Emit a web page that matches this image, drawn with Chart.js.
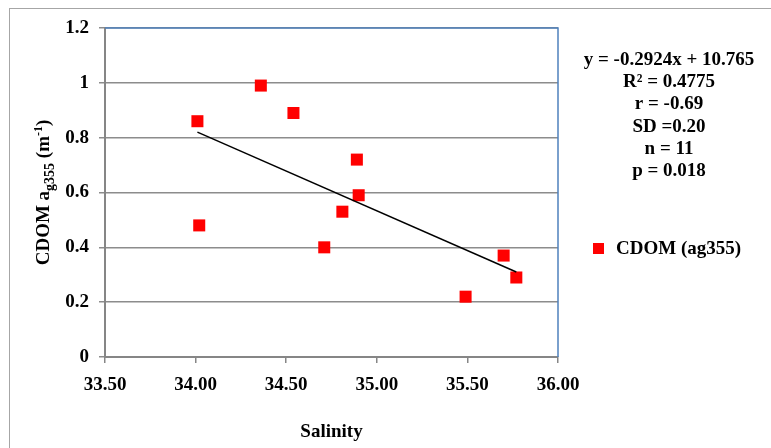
<!DOCTYPE html>
<html>
<head>
<meta charset="utf-8">
<script src="https://cdn.jsdelivr.net/npm/chart.js@4.4.0/dist/chart.umd.min.js"></script>
<style>
html, body { margin: 0; padding: 0; background: #fff; }
</style>
</head>
<body>
<canvas id="myChart" width="771" height="448"></canvas>
<script>
// data
const salinity = [34.01, 34.02, 34.36, 34.54, 34.71, 34.81, 34.89, 34.90, 35.49, 35.70, 35.77];
const cdom = [0.86, 0.48, 0.99, 0.89, 0.40, 0.53, 0.72, 0.59, 0.22, 0.37, 0.29];
const trendX = [34.01, 35.77];
const trendY = [0.82, 0.31];
const xTicks = [33.5, 34.0, 34.5, 35.0, 35.5, 36.0];
const yTicks = [0, 0.2, 0.4, 0.6, 0.8, 1.0, 1.2];
const statsLines = ['y = -0.2924x + 10.765', 'R\u00B2 = 0.4775', 'r = -0.69', 'SD =0.20', 'n = 11', 'p = 0.018'];
const seriesName = 'CDOM (ag355)';
const xTitle = 'Salinity';

const serif = "'Liberation Serif', 'Times New Roman', serif";

// titres, légende et cadre dessinés à la main
const decorPlugin = {
    id: 'decor',
    beforeDraw(chart) {
        const c = chart.ctx;
        c.save();
        c.fillStyle = '#fff';
        c.fillRect(0, 0, chart.width, chart.height);
        c.strokeStyle = '#a6a6a6';
        c.lineWidth = 1;
        c.strokeRect(9.5, 8.5, 800, 500);
        c.restore();
    },
    afterDraw(chart) {
        const c = chart.ctx;
        const a = chart.chartArea;
        c.save();
        // bord bleu haut / droite
        c.strokeStyle = '#4f81bd';
        c.lineWidth = 1.5;
        c.beginPath();
        c.moveTo(a.left, a.top);
        c.lineTo(a.right, a.top);
        c.lineTo(a.right, a.bottom);
        c.stroke();

        c.fillStyle = '#000';
        c.textAlign = 'center';
        c.textBaseline = 'middle';
        c.font = 'bold 19px ' + serif;
        statsLines.forEach((t, i) => c.fillText(t, 669, 60 + i * 22.2));

        // légende
        c.fillStyle = '#ff0000';
        c.fillRect(593, 243, 11, 11);
        c.fillStyle = '#000';
        c.textAlign = 'left';
        c.fillText(seriesName, 616, 249);

        // titre x
        c.textAlign = 'center';
        c.fillText(xTitle, (a.left + a.right) / 2, 432);

        // titre y avec indice / exposant
        const parts = [
            { t: 'CDOM a', s: 19, dy: 0 },
            { t: 'g355', s: 14, dy: 5 },
            { t: ' (m', s: 19, dy: 0 },
            { t: '-1', s: 12, dy: -7 },
            { t: ')', s: 19, dy: 0 }
        ];
        let total = 0;
        parts.forEach(p => { c.font = 'bold ' + p.s + 'px ' + serif; p.w = c.measureText(p.t).width; total += p.w; });
        c.translate(43, (a.top + a.bottom) / 2);
        c.rotate(-Math.PI / 2);
        c.textAlign = 'left';
        c.textBaseline = 'alphabetic';
        let x = -total / 2;
        parts.forEach(p => {
            c.font = 'bold ' + p.s + 'px ' + serif;
            c.fillText(p.t, x, 6 + p.dy);
            x += p.w;
        });
        c.restore();
    }
};

const ctx = document.getElementById('myChart');

new Chart(ctx, {
    type: 'scatter',
    data: {
        datasets: [
            {
                label: 'trend',
                type: 'line',
                data: trendX.map((x, i) => ({ x: x, y: trendY[i] })),
                borderColor: '#000',
                borderWidth: 1.5,
                pointRadius: 0,
                fill: false,
                order: 0
            },
            {
                label: seriesName,
                data: salinity.map((x, i) => ({ x: x, y: cdom[i] })),
                pointStyle: 'rect',
                pointRadius: 8.5,
                backgroundColor: '#ff0000',
                borderColor: '#ff0000',
                borderWidth: 0,
                order: 1
            }
        ]
    },
    options: {
        responsive: false,
        animation: false,
        layout: { padding: { left: 9, top: 28, right: 213, bottom: 0 } },
        plugins: {
            legend: { display: false },
            tooltip: { enabled: false }
        },
        scales: {
            x: {
                type: 'linear',
                min: 33.5,
                max: 36,
                afterBuildTicks: s => { s.ticks = xTicks.map(v => ({ value: v })); },
                afterFit: s => { s.height = 91; },
                ticks: {
                    callback: v => v.toFixed(2),
                    font: { family: serif, size: 19, weight: 'bold' },
                    color: '#000',
                    padding: 11,
                    maxRotation: 0
                },
                grid: { drawOnChartArea: false, tickLength: 6, color: '#868686', lineWidth: 1.5 },
                border: { color: '#868686', width: 2 }
            },
            y: {
                min: 0,
                max: 1.2,
                afterBuildTicks: s => { s.ticks = yTicks.map(v => ({ value: v })); },
                afterFit: s => { s.width = 96; },
                ticks: {
                    callback: v => String(Math.round(v * 10) / 10),
                    font: { family: serif, size: 19, weight: 'bold' },
                    color: '#000',
                    padding: 10
                },
                grid: { color: '#8c8c8c', lineWidth: 1.5, tickLength: 6 },
                border: { color: '#868686', width: 2 }
            }
        }
    },
    plugins: [decorPlugin]
});
</script>
</body>
</html>
